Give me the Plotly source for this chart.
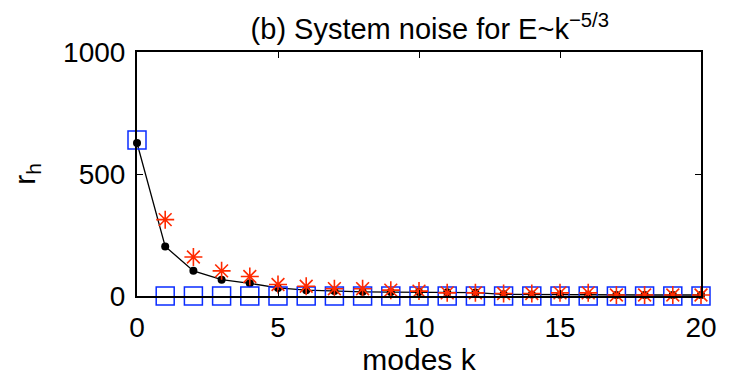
import plotly.graph_objects as go

modes = list(range(21))
# black dots (connected by line)
r_black = [627, 203, 103, 67, 52, 33, 24, 20, 17, 16, 16, 15, 14, 7, 6, 5, 5, 4, 4, 4, 4]
# red stars
r_star = [627, 313, 160, 103, 80, 47, 40, 30, 30, 24, 20, 13, 13, 10, 10, 13, 13, 4, 4, 4, 4]
# blue squares
r_square = [639] + [0] * 20

xticks = [0, 5, 10, 15, 20]
yticks = [0, 500, 1000]

FONT = "Liberation Sans, Arial, Helvetica, sans-serif"
W, H = 721, 368  # page body has an 8px margin

fig = go.Figure()
fig.add_trace(go.Scatter(
    x=modes, y=r_black, mode="lines+markers",
    line=dict(color="black", width=1.3),
    marker=dict(symbol="circle", size=8, color="black"),
    cliponaxis=False, showlegend=False))
fig.add_trace(go.Scatter(
    x=modes, y=r_square, mode="markers",
    marker=dict(symbol="square-open", size=18, color="#0a2cff", line=dict(width=1.5)),
    cliponaxis=False, showlegend=False))
fig.add_trace(go.Scatter(
    x=modes[1:], y=r_star[1:], mode="markers",
    marker=dict(symbol="asterisk-open", size=15, color="#ff2a00", line=dict(width=1.6, color="#ff2a00")),
    cliponaxis=False, showlegend=False))

axis_common = dict(
    showline=True, linecolor="black", linewidth=2, mirror="allticks",
    ticks="inside", ticklen=6, tickwidth=1.2, tickcolor="black",
    showgrid=False, zeroline=False,
    tickfont=dict(family=FONT, size=28, color="black"),
)

fig.update_layout(
    width=W, height=H,
    margin=dict(l=126, r=20, t=44, b=74),
    paper_bgcolor="white", plot_bgcolor="white",
    font=dict(family=FONT, color="black"),
    title=dict(text="(b) System noise for E~k<sup>−5/3</sup>",
               x=0.585, xanchor="center", y=0.943, yanchor="middle",
               font=dict(family=FONT, size=29, color="black")),
    xaxis=dict(range=[0, 20], tickvals=xticks, ticktext=[str(v) for v in xticks],
               title=dict(text="modes k", font=dict(family=FONT, size=30), standoff=0),
               ticklabelstandoff=5, **axis_common),
    yaxis=dict(range=[0, 1000], tickvals=yticks, ticktext=[str(v) for v in yticks],
               title=dict(text="r<sub>h</sub>", font=dict(family=FONT, size=30), standoff=22),
               ticklabelstandoff=4, **axis_common),
)

fig.write_html("out.html")
